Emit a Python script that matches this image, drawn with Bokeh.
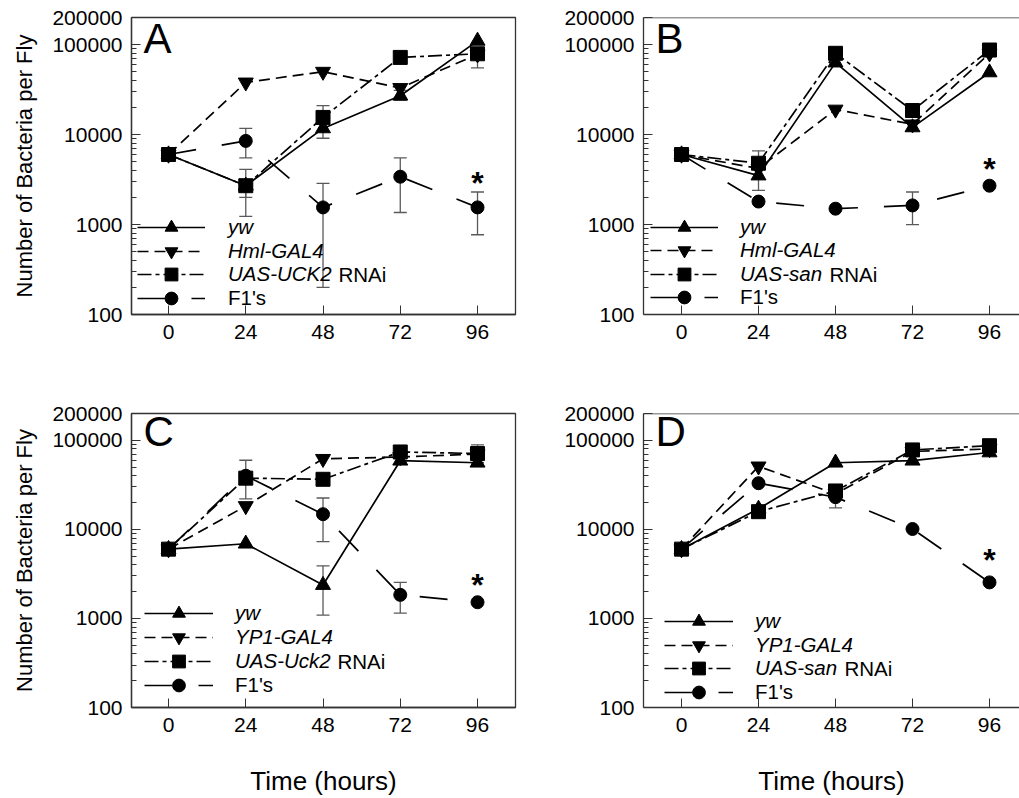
from bokeh.plotting import figure
from bokeh.layouts import gridplot
from bokeh.models import (Range1d, FixedTicker, NumeralTickFormatter, Legend, LegendItem,
                          Label, Whisker, TeeHead, ColumnDataSource, Span)
from bokeh.core.properties import value
from bokeh.embed import file_html
from bokeh.resources import INLINE

FONT = "Liberation Sans"
INK = "#000000"
AX = "#333333"
ERR = "#5a5a5a"

hours = [0, 24, 48, 72, 96]
x_ticks = [0, 24, 48, 72, 96]
y_ticks = [100, 1000, 10000, 100000, 200000]
y_minor = [m * 10 ** e for e in (2, 3, 4) for m in range(2, 10)]
Y_MIN, Y_MAX = y_ticks[0], y_ticks[-1]
y_label = "Number of Bacteria per Fly"
x_label = "Time (hours)"
rnai_suffix = "RNAi"

# ---- Panel A ----
a_names = ["yw", "Hml-GAL4", "UAS-UCK2", "F1's"]
a_yw = [6000, 2700, 11700, 27000, 110000]
a_gal = [6000, 38000, 50000, 33000, 78000]
a_uas = [6000, 2700, 15500, 72000, 79000]
a_f1 = [6000, 8500, 1550, 3400, 1550]
a_err_x = [24, 24, 24, 48, 48, 72, 72, 96, 96]
a_err_lo = [5500, 2000, 1230, 9100, 200, 1360, 24000, 770, 55000]
a_err_hi = [11700, 4100, 2700, 21000, 2860, 5500, 31000, 2300, 79000]

# ---- Panel B ----
b_names = ["yw", "Hml-GAL4", "UAS-san", "F1's"]
b_yw = [6000, 3500, 63000, 12000, 49000]
b_gal = [6000, 4200, 19000, 13000, 80000]
b_uas = [6000, 4800, 80000, 18500, 87000]
b_f1 = [6000, 1800, 1500, 1630, 2700]
b_err_x = [24, 72]
b_err_lo = [2400, 1000]
b_err_hi = [6600, 2300]

# ---- Panel C ----
c_names = ["yw", "YP1-GAL4", "UAS-Uck2", "F1's"]
c_yw = [6000, 6900, 2370, 59000, 56000]
c_gal = [6000, 18300, 62000, 65000, 70000]
c_uas = [6000, 37600, 36500, 74000, 71000]
c_f1 = [6000, 40000, 14800, 1840, 1520]
c_err_x = [24, 48, 48, 72, 96]
c_err_lo = [22000, 7300, 1090, 1150, 56000]
c_err_hi = [59700, 22500, 3900, 2540, 89000]

# ---- Panel D ----
d_names = ["yw", "YP1-GAL4", "UAS-san", "F1's"]
d_yw = [6000, 17000, 56000, 59000, 73000]
d_gal = [6000, 51000, 25000, 75000, 80000]
d_uas = [6000, 15800, 27000, 78000, 87000]
d_f1 = [6000, 33000, 23000, 10100, 2540]
d_err_x = [48]
d_err_lo = [17400]
d_err_hi = [27000]

DASHES = ["solid", "11 6", "14 4 4 4", "28 26"]
MARKERS = ["triangle", "inverted_triangle", "square", "circle"]
SIZES = [15, 15, 14, 13]
STYLES = ["italic", "italic", "italic", "normal"]
LEG_FONT = "20.5px"


def make_panel(letter, series, names, ex, elo, ehi, *, width, height, borders, xr,
               ylab, xlab, gx, gw, standoff, rows, rnai_x, star_off, open_right):
    bl, br, bt, bb = borders
    p = figure(width=width, height=height, x_range=Range1d(*xr),
               y_range=Range1d(Y_MIN, Y_MAX), y_axis_type="log",
               output_backend="svg", toolbar_location=None,
               min_border_left=bl, min_border_right=br, min_border_top=bt,
               min_border_bottom=bb, background_fill_color="white",
               border_fill_color="white")
    p.grid.visible = False
    if open_right:
        # panel is cut at the right page edge: only a top rule, no right border
        p.outline_line_color = None
        p.add_layout(Span(location=Y_MAX, dimension="width", line_color=AX,
                          line_width=1.3))
    else:
        p.outline_line_color = AX
        p.outline_line_width = 1.3

    # axes
    xa = p.xaxis[0]
    ya = p.yaxis[0]
    xa.ticker = FixedTicker(ticks=x_ticks, minor_ticks=[])
    ya.ticker = FixedTicker(ticks=y_ticks, minor_ticks=y_minor)
    ya.formatter = NumeralTickFormatter(format="0")
    for ax in (xa, ya):
        ax.axis_line_color = AX
        ax.axis_line_width = 1.3
        ax.major_tick_line_color = AX
        ax.minor_tick_line_color = AX
        ax.major_tick_in = 9
        ax.major_tick_out = 0
        ax.minor_tick_in = 5
        ax.minor_tick_out = 0
        ax.major_label_text_font = FONT
        ax.major_label_text_font_size = "21px"
        ax.major_label_text_color = INK
        ax.major_label_standoff = 9
    xa.major_label_standoff = 10
    if ylab:
        ya.axis_label = y_label
        ya.axis_label_text_font = FONT
        ya.axis_label_text_font_size = "22px"
        ya.axis_label_text_font_style = "normal"
        ya.axis_label_text_color = INK
        ya.axis_label_standoff = 12
    if xlab:
        xa.axis_label = x_label
        xa.axis_label_text_font = FONT
        xa.axis_label_text_font_size = "26px"
        xa.axis_label_text_font_style = "normal"
        xa.axis_label_text_color = INK
        xa.axis_label_standoff = 31

    # error bars
    src = ColumnDataSource(dict(base=ex, lower=elo, upper=ehi))
    p.add_layout(Whisker(source=src, base="base", lower="lower", upper="upper",
                         dimension="height", line_color=ERR, line_width=1.3,
                         level="underlay",
                         upper_head=TeeHead(size=13, line_color=ERR, line_width=1.3),
                         lower_head=TeeHead(size=13, line_color=ERR, line_width=1.3)))

    lines, marks = [], []
    for vals, dash, mk, sz in zip(series, DASHES, MARKERS, SIZES):
        lr = p.line(hours, vals, line_color=INK, line_width=1.7, line_dash=dash)
        sr = p.scatter(hours, vals, marker=mk, size=sz, fill_color=INK, line_color=INK)
        lines.append(lr)
        marks.append(sr)

    # legend: one single-row legend per entry (mixed italic / upright labels)
    gh = 32
    for i in range(4):
        leg = Legend(items=[LegendItem(label=names[i], renderers=[lines[i], marks[i]])],
                     location=(gx, rows[i] - gh / 2),
                     glyph_width=gw, glyph_height=gh, label_standoff=standoff,
                     spacing=0, padding=0, margin=0, border_line_color=None,
                     background_fill_alpha=0, label_text_font=FONT,
                     label_text_font_size=LEG_FONT, label_text_color=INK,
                     label_text_font_style=STYLES[i], label_height=20)
        p.add_layout(leg)
    p.add_layout(Label(x=rnai_x, y=rows[2], x_units="screen", y_units="screen",
                       text=rnai_suffix, text_font=FONT, text_font_size=LEG_FONT,
                       text_baseline="middle", text_color=INK))

    # panel letter
    p.add_layout(Label(x=12, y=276, x_units="screen", y_units="screen", text=letter,
                       text_font=FONT, text_font_size="42px", text_color=INK,
                       text_baseline="alphabetic"))

    # significance asterisk above the F1's last point
    p.text(x=[hours[-1]], y=[series[3][-1]], text=["*"], text_font=value(FONT),
           text_font_size="32px", text_font_style="bold", text_align="center",
           text_baseline="middle", y_offset=star_off, text_color=INK)
    return p


pA = make_panel("A", [a_yw, a_gal, a_uas, a_f1], a_names, a_err_x, a_err_lo, a_err_hi,
                width=518, height=398, borders=(131, 3, 17, 84), xr=(-11.5, 107.8),
                ylab=True, xlab=False, gx=6, gw=68, standoff=23,
                rows=[86.75, 63.25, 39.75, 16.25], rnai_x=207, star_off=-24,
                open_right=False)
pB = make_panel("B", [b_yw, b_gal, b_uas, b_f1], b_names, b_err_x, b_err_lo, b_err_hi,
                width=501, height=398, borders=(125, 0, 17, 84), xr=(-11.85, 105.35),
                ylab=False, xlab=False, gx=7, gw=68, standoff=22,
                rows=[87.25, 63.75, 40.25, 16.75], rnai_x=186, star_off=-17,
                open_right=True)
pC = make_panel("C", [c_yw, c_gal, c_uas, c_f1], c_names, c_err_x, c_err_lo, c_err_hi,
                width=518, height=400, borders=(131, 3, 15, 90), xr=(-11.5, 107.8),
                ylab=True, xlab=True, gx=13, gw=69, standoff=22,
                rows=[94, 70.5, 46, 22], rnai_x=206, star_off=-17,
                open_right=False)
pD = make_panel("D", [d_yw, d_gal, d_uas, d_f1], d_names, d_err_x, d_err_lo, d_err_hi,
                width=501, height=400, borders=(125, 0, 15, 90), xr=(-11.85, 105.35),
                ylab=False, xlab=True, gx=21, gw=69, standoff=22,
                rows=[85.75, 62.25, 38.75, 15.25], rnai_x=201, star_off=-22,
                open_right=True)

grid = gridplot([[pA, pB], [pC, pD]], toolbar_location=None)

with open("out.html", "w") as f:
    f.write(file_html(grid, INLINE))
